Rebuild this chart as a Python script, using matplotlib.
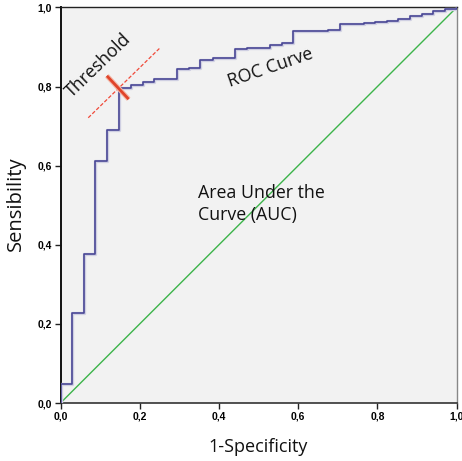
import numpy as np
import matplotlib
matplotlib.use("Agg")
import matplotlib.pyplot as plt
from matplotlib.ticker import FuncFormatter

# ROC curve step points (1-specificity, sensitivity)
fpr = [0, 0, 0.028, 0.0585, 0.088, 0.1175, 0.147, 0.178, 0.207, 0.237, 0.293,
       0.324, 0.353, 0.384, 0.441, 0.47, 0.529, 0.558, 0.588, 0.676, 0.706,
       0.765, 0.794, 0.824, 0.853, 0.883, 0.912, 0.941, 0.971, 1.0]
tpr = [0, 0.048, 0.2265, 0.376, 0.611, 0.689, 0.797, 0.805, 0.811, 0.818, 0.843,
       0.848, 0.866, 0.871, 0.894, 0.897, 0.904, 0.910, 0.940, 0.944, 0.957,
       0.961, 0.963, 0.965, 0.971, 0.977, 0.982, 0.991, 0.997, 1.0]
threshold_idx = 6
ticks = [0.0, 0.2, 0.4, 0.6, 0.8, 1.0]

fig = plt.figure(figsize=(4.62, 4.61), dpi=100)
ax = fig.add_axes([0.131, 0.1258, 0.8575, 0.8582])
ax.set_facecolor("#f2f2f2")

ax.plot([0, 1], [0, 1], color="#3cb44a", lw=1.0, zorder=2)
ax.plot(fpr, tpr, drawstyle="steps-post", color="#cfcfe2", lw=2.4, zorder=3)
ax.plot(fpr, tpr, drawstyle="steps-post", color="#4a4896", lw=1.2, zorder=4)

# threshold marker
tx, ty = fpr[threshold_idx], tpr[threshold_idx]
ax.plot([tx - 0.077, tx + 0.1025], [ty - 0.076, ty + 0.099], color="#f04a3a",
        lw=0.9, ls=(0, (3, 1.5)), zorder=5)
ax.plot([tx - 0.030, tx + 0.025], [ty + 0.030, ty - 0.029], color="#f3b8a8",
        lw=3.6, solid_capstyle="butt", zorder=5)
ax.plot([tx - 0.030, tx + 0.025], [ty + 0.030, ty - 0.029], color="#e0442a",
        lw=2.0, solid_capstyle="butt", zorder=6)

font = "Open Sans"
ax.text(0.095, 0.854, "Threshold", rotation=44, fontsize=12.8, family=font,
        ha="center", va="center", color="#111111")
ax.text(0.529, 0.848, "ROC Curve", rotation=19, fontsize=12.8, family=font,
        ha="center", va="center", color="#111111")
ax.text(0.348, 0.5025, "Area Under the\nCurve (AUC)", fontsize=12.8, family=font,
        ha="left", va="center", multialignment="left", linespacing=1.25,
        color="#111111")

ax.set_xlim(0, 1)
ax.set_ylim(0, 1)
ax.set_xticks(ticks)
ax.set_yticks(ticks)
fmt = FuncFormatter(lambda v, p: f"{v:.1f}".replace(".", ","))
ax.xaxis.set_major_formatter(fmt)
ax.yaxis.set_major_formatter(fmt)
ax.tick_params(length=4, width=1, pad=2, labelsize=7.5, color="#222222")
for lab in ax.get_xticklabels() + ax.get_yticklabels():
    lab.set_fontweight("bold")
    lab.set_family("Liberation Sans")

ax.spines["left"].set_color("#111111")
ax.spines["left"].set_linewidth(1.4)
ax.spines["bottom"].set_color("#333333")
ax.spines["bottom"].set_linewidth(1.2)
ax.spines["top"].set_color("#222222")
ax.spines["top"].set_linewidth(1.0)
ax.spines["right"].set_color("#888888")
ax.spines["right"].set_linewidth(1.0)

ax.set_ylabel("Sensibility", fontsize=14.5, family=font, color="#111111")
ax.set_xlabel("1-Specificity", fontsize=13, family=font, color="#111111")
ax.yaxis.set_label_coords(-0.087, 0.505)
ax.xaxis.set_label_coords(0.4987, -0.088)

fig.savefig("out.png", dpi=100)
